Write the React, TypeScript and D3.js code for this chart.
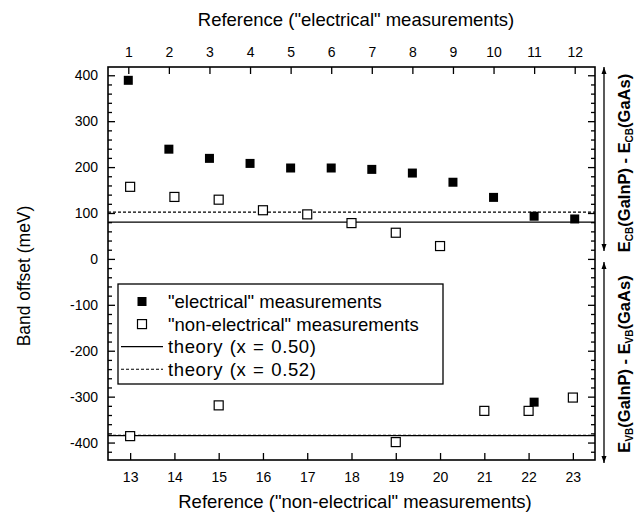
import React, { useEffect, useRef } from "react";
import * as d3 from "d3";

// "electrical" measurements, placed on the top axis (reference number)
const electricalRefs = [1, 2, 3, 4, 5, 6, 7, 8, 9, 10, 11, 12, 11];
const electricalValues = [389, 239, 219, 208, 198, 198, 195, 187, 167, 134, 93, 87, -312];

// "non-electrical" measurements, placed on the bottom axis
const nonElectricalRefs = [13, 14, 15, 16, 17, 18, 19, 20, 13, 15, 19, 21, 22, 23];
const nonElectricalValues = [157, 135, 129, 106, 97, 78, 57, 28, -386, -319, -399, -331, -331, -302];

// theory lines: [conduction band, valence band]
const theoryX050 = [80, -385];
const theoryX052 = [102, -384];

const topTicks = d3.range(1, 13);
const bottomTicks = d3.range(13, 24);
const yMajorTicks = d3.range(-400, 401, 100);

const legendLabels = [
    '"electrical" measurements',
    '"non-electrical" measurements',
    "theory (x = 0.50)",
    "theory (x = 0.52)",
];

const FONT = "'Liberation Sans', Arial, Helvetica, sans-serif";

function BandOffsetChart() {
    const ref = useRef(null);

    useEffect(() => {
        const width = 634;
        const height = 516;
        const left = 108;
        const right = 595;
        const top = 67;
        const bottom = 460;

        const svg = d3.select(ref.current);
        svg.selectAll("*").remove();

        const xTop = d3.scaleLinear().domain([0.5, 12.5]).range([left, right]);
        const xBottom = d3.scaleLinear().domain([12.5, 23.5]).range([left, right]);
        const y = d3.scaleLinear().domain([-438, 418]).range([bottom, top]);

        const yMinorTicks = d3.range(-420, 401, 20).filter((d) => d % 100 !== 0);

        const styleAxis = (g) => {
            g.select(".domain").remove();
            g.attr("font-family", FONT).attr("font-size", 14);
            g.selectAll("line").attr("stroke", "#000").attr("stroke-width", 1.3);
            g.selectAll("text").attr("fill", "#000");
        };

        // left axis
        svg.append("g")
            .attr("transform", `translate(${left},0)`)
            .call(
                d3.axisLeft(y)
                    .tickValues(yMajorTicks)
                    .tickSizeInner(-7)
                    .tickSizeOuter(0)
                    .tickPadding(10)
                    .tickFormat((d) => String(d))
            )
            .call(styleAxis);
        svg.append("g")
            .attr("transform", `translate(${left},0)`)
            .call(d3.axisLeft(y).tickValues(yMinorTicks).tickSizeInner(-4).tickSizeOuter(0).tickFormat(() => ""))
            .call(styleAxis);

        // right axis (ticks only)
        svg.append("g")
            .attr("transform", `translate(${right},0)`)
            .call(d3.axisRight(y).tickValues(yMajorTicks).tickSizeInner(-7).tickSizeOuter(0).tickFormat(() => ""))
            .call(styleAxis);
        svg.append("g")
            .attr("transform", `translate(${right},0)`)
            .call(d3.axisRight(y).tickValues(yMinorTicks).tickSizeInner(-4).tickSizeOuter(0).tickFormat(() => ""))
            .call(styleAxis);

        // top axis
        svg.append("g")
            .attr("transform", `translate(0,${top})`)
            .call(d3.axisTop(xTop).tickValues(topTicks).tickSizeInner(-7).tickSizeOuter(0).tickPadding(10))
            .call(styleAxis);

        // bottom axis
        svg.append("g")
            .attr("transform", `translate(0,${bottom})`)
            .call(d3.axisBottom(xBottom).tickValues(bottomTicks).tickSizeInner(-7).tickSizeOuter(0).tickPadding(12))
            .call(styleAxis);

        // theory lines
        theoryX050.forEach((v) => {
            svg.append("line")
                .attr("x1", left).attr("x2", right)
                .attr("y1", y(v)).attr("y2", y(v))
                .attr("stroke", "#000").attr("stroke-width", 1.3);
        });
        theoryX052.forEach((v) => {
            svg.append("line")
                .attr("x1", left).attr("x2", right)
                .attr("y1", y(v)).attr("y2", y(v))
                .attr("stroke", "#000").attr("stroke-width", 1.1)
                .attr("stroke-dasharray", "3,2");
        });

        const s = 9;
        // open squares
        svg.append("g")
            .selectAll("rect")
            .data(nonElectricalRefs.map((r, i) => ({ r, v: nonElectricalValues[i] })))
            .join("rect")
            .attr("x", (d) => xBottom(d.r) - s / 2)
            .attr("y", (d) => y(d.v) - s / 2)
            .attr("width", s)
            .attr("height", s)
            .attr("fill", "#fff")
            .attr("stroke", "#000")
            .attr("stroke-width", 1.2);

        // filled squares
        svg.append("g")
            .selectAll("rect")
            .data(electricalRefs.map((r, i) => ({ r, v: electricalValues[i] })))
            .join("rect")
            .attr("x", (d) => xTop(d.r) - s / 2)
            .attr("y", (d) => y(d.v) - s / 2)
            .attr("width", s)
            .attr("height", s)
            .attr("fill", "#000");

        // frame
        svg.append("rect")
            .attr("x", left).attr("y", top)
            .attr("width", right - left).attr("height", bottom - top)
            .attr("fill", "none").attr("stroke", "#000").attr("stroke-width", 1.6);

        // legend
        const lg = svg.append("g");
        lg.append("rect")
            .attr("x", 118).attr("y", 284)
            .attr("width", 325).attr("height", 100)
            .attr("fill", "#fff").attr("stroke", "#000").attr("stroke-width", 1.3);
        legendLabels.forEach((label, i) => {
            const cy = 301.5 + i * 22.6;
            if (i === 0) {
                lg.append("rect").attr("x", 142 - s / 2).attr("y", cy - s / 2)
                    .attr("width", s).attr("height", s).attr("fill", "#000");
            } else if (i === 1) {
                lg.append("rect").attr("x", 142 - s / 2).attr("y", cy - s / 2)
                    .attr("width", s).attr("height", s)
                    .attr("fill", "#fff").attr("stroke", "#000").attr("stroke-width", 1.2);
            } else {
                lg.append("line").attr("x1", 121).attr("x2", 163)
                    .attr("y1", cy).attr("y2", cy)
                    .attr("stroke", "#000").attr("stroke-width", i === 2 ? 1.2 : 1.1)
                    .attr("stroke-dasharray", i === 3 ? "3,2" : null);
            }
            lg.append("text")
                .attr("x", 168).attr("y", cy + 6.5)
                .attr("font-family", FONT).attr("font-size", 18.5)
                .attr("letter-spacing", i > 1 ? 0.6 : null)
                .attr("word-spacing", i > 1 ? 1 : null)
                .text(label);
        });

        // axis titles
        svg.append("text")
            .attr("x", 356).attr("y", 26)
            .attr("text-anchor", "middle")
            .attr("font-family", FONT).attr("font-size", 18.5)
            .text('Reference ("electrical" measurements)');
        svg.append("text")
            .attr("x", 355).attr("y", 508)
            .attr("text-anchor", "middle")
            .attr("font-family", FONT).attr("font-size", 18.5)
            .text('Reference ("non-electrical" measurements)');
        svg.append("text")
            .attr("transform", "translate(30,276) rotate(-90)")
            .attr("text-anchor", "middle")
            .attr("font-family", FONT).attr("font-size", 17.5)
            .text("Band offset (meV)");

        // right side arrows
        const arrow = (y1, y2) => {
            const ax = 604;
            svg.append("line").attr("x1", ax).attr("x2", ax).attr("y1", y1).attr("y2", y2)
                .attr("stroke", "#000").attr("stroke-width", 1.3);
            svg.append("path")
                .attr("d", `M${ax},${y1} l-2.5,7 l5,0 Z M${ax},${y2} l-2.5,-7 l5,0 Z`)
                .attr("fill", "#000");
        };
        arrow(y(418), y(0) - 8);
        arrow(y(0) + 3, bottom + 3);

        // right side labels
        const sideLabel = (cy, sub) => {
            const t = svg.append("text")
                .attr("transform", `translate(630,${cy}) rotate(-90)`)
                .attr("text-anchor", "middle")
                .attr("font-family", FONT).attr("font-size", 16.5)
                .attr("font-weight", "bold");
            t.append("tspan").text("E");
            t.append("tspan").attr("dy", 3).attr("font-size", 10).text(sub);
            t.append("tspan").attr("dy", -3).text("(GaInP) - E");
            t.append("tspan").attr("dy", 3).attr("font-size", 10).text(sub);
            t.append("tspan").attr("dy", -3).text("(GaAs)");
        };
        sideLabel(163, "CB");
        sideLabel(364, "VB");

        svg.attr("width", width).attr("height", height);
    }, []);

    return (
        <svg
            ref={ref}
            width={634}
            height={516}
            style={{ position: "absolute", left: 0, top: 0, background: "#fff" }}
        />
    );
}

export default function App() {
    return <BandOffsetChart />;
}
